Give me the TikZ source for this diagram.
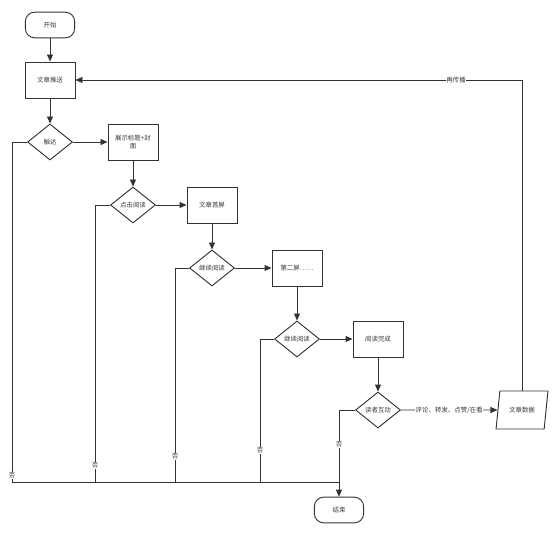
\documentclass[tikz,border=0pt]{standalone}
\usepackage{fontspec}
\usepackage{tikz}
\usetikzlibrary{arrows.meta,shapes.geometric}
\newfontfamily\cjk{Noto Sans CJK SC}
\definecolor{linie}{HTML}{333333}
\definecolor{schrift}{HTML}{3A3A3A}
\tikzset{
  fluss/.style={-{Triangle[length=2.1mm,width=1.8mm]},draw=linie,line width=0.8pt},
  strich/.style={draw=linie,line width=0.8pt},
  txt/.style={font=\cjk\fontsize{5.5}{7}\selectfont,text=schrift},
  box/.style={txt,draw=linie,line width=0.8pt,rectangle,minimum width=1.5cm,minimum height=1.08cm,align=center,inner sep=1pt},
  term/.style={txt,draw=linie,line width=0.8pt,rectangle,rounded corners=2.8mm,minimum width=1.48cm,minimum height=0.77cm},
  raute/.style={txt,draw=linie,line width=0.8pt,diamond,aspect=1.25,inner sep=0pt,minimum width=1.35cm,minimum height=1.08cm},
  daten/.style={txt,draw=linie,line width=0.8pt,trapezium,trapezium left angle=74,trapezium right angle=106,trapezium stretches=true,minimum width=1.56cm,minimum height=1.14cm,inner sep=1pt},
  lbl/.style={txt,fill=white,inner sep=0.5pt},
}
\begin{document}
\begin{tikzpicture}[x=0.03cm,y=-0.03cm]
  \useasboundingbox (0,0) rectangle (559,535);
  % Knoten
  \node[term] (start) at (50,25) {开始};
  \node[box] (push) at (50,80) {文章推送};
  \node[raute] (reach) at (50,142) {触达};
  \node[box] (cover) at (133,142) {展示标题+封\\面};
  \node[raute] (click) at (133,205) {点击阅读};
  \node[box] (first) at (212,205) {文章首屏};
  \node[raute] (cont1) at (212,268) {继续阅读};
  \node[box] (second) at (297,268) {第二屏……};
  \node[raute] (cont2) at (297,339) {继续阅读};
  \node[box] (done) at (378,339) {阅读完成};
  \node[raute] (interact) at (378,410) {读者互动};
  \node[daten] (data) at (522,410) {文章数据};
  \node[term] (stop) at (339,510) {结束};
  \coordinate (j1) at (12,482);
  \coordinate (j2) at (95,482);
  \coordinate (j3) at (175,482);
  \coordinate (j4) at (260,482);
  \coordinate (j5) at (339,482);
  % Hauptfluss
  \draw[fluss] (start) -- (push);
  \draw[fluss] (push) -- (reach);
  \draw[fluss] (reach) -- (cover);
  \draw[fluss] (cover) -- (click);
  \draw[fluss] (click) -- (first);
  \draw[fluss] (first) -- (cont1);
  \draw[fluss] (cont1) -- (second);
  \draw[fluss] (second) -- (cont2);
  \draw[fluss] (cont2) -- (done);
  \draw[fluss] (done) -- (interact);
  \draw[fluss] (interact) -- node[lbl]{评论、转发、点赞/在看} (data);
  \draw[fluss] (data) |- node[lbl,pos=0.574]{再传播} (push);
  % Nein-Zweige
  \draw[strich] (reach.west) -| node[lbl,pos=0.99]{否} (j1);
  \draw[strich] (click.west) -| node[lbl,pos=0.97]{否} (j2);
  \draw[strich] (cont1.west) -| node[lbl,pos=0.94]{否} (j3);
  \draw[strich] (cont2.west) -| node[lbl,pos=0.89]{否} (j4);
  \draw[fluss] (interact.west) -| node[lbl,pos=0.70]{否} (stop);
  \draw[strich] (j1) -- (j5);
\end{tikzpicture}
\end{document}
